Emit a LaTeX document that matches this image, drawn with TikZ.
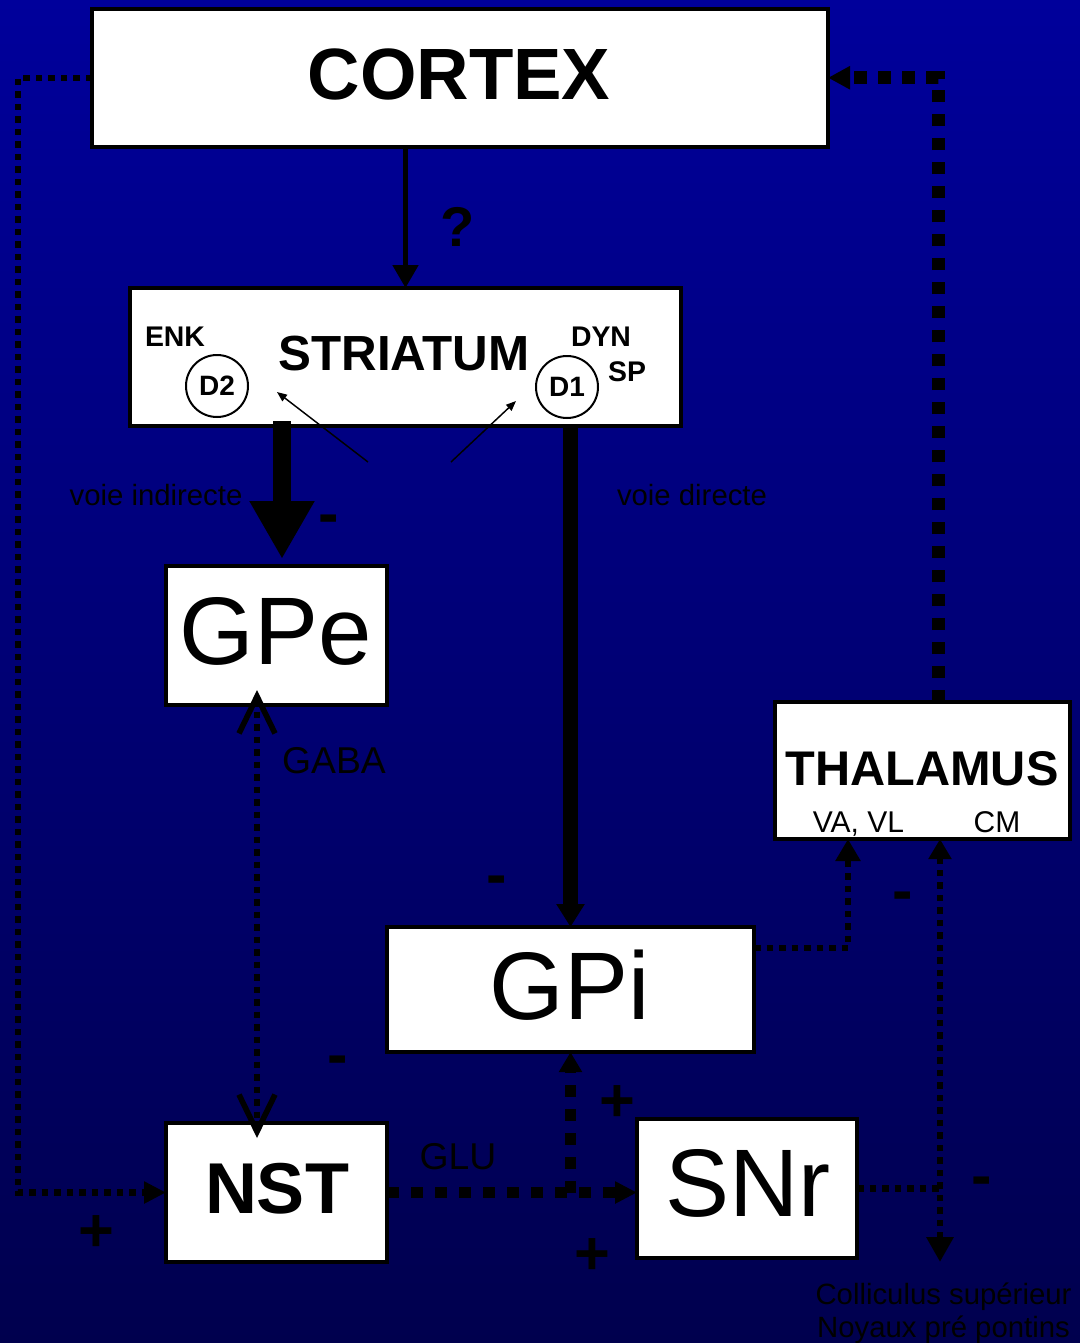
\documentclass[tikz,border=0pt]{standalone}
\usepackage{fontspec}
\setmainfont{Liberation Sans}
\usetikzlibrary{arrows.meta,calc}
\definecolor{bgtop}{RGB}{0,0,155}
\definecolor{bgbot}{RGB}{0,0,78}
\tikzset{
  box/.style={draw=black, fill=white, line width=3pt, inner sep=0pt, outer sep=0pt},
  lbl/.style={inner sep=0pt, outer sep=0pt, anchor=base, text=black},
  sign/.style={lbl, font=\fontsize{46}{46}\selectfont\bfseries},
  ring/.style={circle, draw=black, line width=1.5pt, minimum size=46.5pt, inner sep=0pt, font=\fontsize{21}{21}\selectfont\bfseries},
  dotA/.style={line width=4.875pt, dash pattern=on 4.875pt off 4.5pt},
  dotB/.style={line width=8.25pt, dash pattern=on 9pt off 9pt},
  dotC/.style={line width=9.75pt, dash pattern=on 9.375pt off 8.625pt},
}
\begin{document}
\begin{tikzpicture}[x=0.75pt,y=-0.75pt]
\useasboundingbox (0,0) rectangle (1080,1343);
\shade[top color=bgtop, bottom color=bgbot] (0,0) rectangle (1080,1343);

% boxes
\node[box, minimum width=552pt, minimum height=103.875pt] (cortex) at (460,77.75) {};
\node[box, minimum width=413.25pt, minimum height=103.5pt] (striatum) at (405.5,357) {};
\node[box, minimum width=165.75pt, minimum height=104.25pt] (gpe) at (276.5,635.5) {};
\node[box, minimum width=275.25pt, minimum height=93.75pt] (gpi) at (570.5,989.5) {};
\node[box, minimum width=165.75pt, minimum height=104.25pt] (nst) at (276.5,1192.5) {};
\node[box, minimum width=165pt, minimum height=104.25pt] (snr) at (747,1188.5) {};
\node[box, minimum width=221.25pt, minimum height=102.75pt] (thal) at (922.5,770.5) {};

\node[ring] (d2) at (217,386) {D2};
\node[ring] (d1) at (567,387) {D1};

% free-end coordinates
\coordinate (a1) at (368,462);
\coordinate (a1h) at (277,392);
\coordinate (a2) at (451,462);
\coordinate (a2h) at (516,401);
\coordinate (coll) at (940,1262);

% connectors
\draw[line width=3.75pt, -{Triangle[length=17.25pt,width=18.75pt]}] (cortex.south -| striatum.north) -- (striatum.north);
\draw[line width=13.5pt, -{Triangle[length=43.5pt,width=45.75pt]}, shorten >=5.25pt]
  ([xshift=-92.625pt,yshift=3.75pt]striatum.south) -- ([xshift=4.125pt]gpe.north);
\draw[line width=11.25pt, -{Triangle[length=17.25pt,width=20.25pt]}] (striatum.south -| gpi.north) -- (gpi.north);

\draw[line width=1.1pt, -{Triangle[length=7.5pt,width=6pt]}] (a1) -- (a1h);
\draw[line width=1.1pt, -{Triangle[length=7.5pt,width=6pt]}] (a2) -- (a2h);

\draw[dotA, {Straight Barb[length=27.75pt,width=27pt,line width=4.2pt]}-{Straight Barb[length=27.75pt,width=27pt,line width=4.2pt]}]
  ([xshift=-14.625pt,yshift=11.25pt]gpe.south) -- ([xshift=-14.625pt,yshift=-11.25pt]nst.north);

\draw[dotA, -{Triangle[length=16.5pt,width=15.75pt]}] (cortex.west) -| (18,1192.5) -- (nst.west);

\draw[dotB, -{Triangle[length=16.5pt,width=15.75pt]}] (nst.east) -- (nst.east -| snr.west);
\draw[dotB, -{Triangle[length=15pt,width=16.5pt]}] (gpi.south |- nst.east) -- (gpi.south);

\draw[dotA, -{Triangle[length=16.5pt,width=18pt]}] ([yshift=31.125pt]gpi.east) -| ([xshift=-55.875pt]thal.south);

\draw[dotA, {Triangle[length=18.75pt,width=19.5pt]}-{Triangle[length=15pt,width=16.5pt]}] (coll) -- ([xshift=13.125pt]thal.south);
\draw[dotA] (snr.east) -- (snr.east -| coll);

\draw[dotC, -{Triangle[length=16.5pt,width=16.5pt]}] ([xshift=12pt]thal.north) |- (cortex.east);

% texts
\node[lbl, font=\fontsize{54.5}{54.5}\selectfont\bfseries] (tcortex) at (459,99) {CORTEX};
\node[lbl, font=\fontsize{37}{37}\selectfont\bfseries] (tstriatum) at (404,370) {STRIATUM};
\node[lbl, font=\fontsize{21.3}{21.3}\selectfont\bfseries] (tenk) at (175,346) {ENK};
\node[lbl, font=\fontsize{21.3}{21.3}\selectfont\bfseries] (tdyn) at (601,346) {DYN};
\node[lbl, font=\fontsize{21.3}{21.3}\selectfont\bfseries] (tsp) at (627,381) {SP};
\node[lbl, font=\fontsize{42}{42}\selectfont\bfseries] (tq) at (458,246) {?};
\node[lbl, font=\fontsize{22}{22}\selectfont] (tvi) at (156,505) {voie indirecte};
\node[lbl, font=\fontsize{22}{22}\selectfont] (tvd) at (692,505) {voie directe};
\node[lbl, font=\fontsize{72}{72}\selectfont] (tgpe) at (276,664) {GPe};
\node[lbl, font=\fontsize{28}{28}\selectfont] (tgaba) at (334,773) {GABA};
\node[lbl, font=\fontsize{72}{72}\selectfont] (tgpi) at (570,1019) {GPi};
\node[lbl, font=\fontsize{54}{54}\selectfont\bfseries] (tnst) at (277,1213) {NST};
\node[lbl, font=\fontsize{28}{28}\selectfont] (tglu) at (458,1169) {GLU};
\node[lbl, font=\fontsize{72}{72}\selectfont] (tsnr) at (748,1216) {SNr};
\node[lbl, font=\fontsize{36.5}{36.5}\selectfont\bfseries] (tthal) at (922,785) {THALAMUS};
\node[lbl, font=\fontsize{22.5}{22.5}\selectfont] (tvavl) at (858.5,832) {VA, VL};
\node[lbl, font=\fontsize{22.5}{22.5}\selectfont] (tcm) at (997,832) {CM};
\node[lbl, font=\fontsize{22}{22}\selectfont] (tcoll) at (943.5,1304) {Colliculus supérieur};
\node[lbl, font=\fontsize{22}{22}\selectfont] (tnoy) at (943.5,1337) {Noyaux pré pontins};

\node[sign] (m1) at (329,534) {-};
\node[sign] (m2) at (497,895) {-};
\node[sign] (m3) at (338,1075) {-};
\node[sign] (m4) at (903,911) {-};
\node[sign] (m5) at (982,1196) {-};
\node[sign] (p1) at (96,1251) {+};
\node[sign] (p2) at (617,1121) {+};
\node[sign] (p3) at (592,1274) {+};
\end{tikzpicture}
\end{document}
